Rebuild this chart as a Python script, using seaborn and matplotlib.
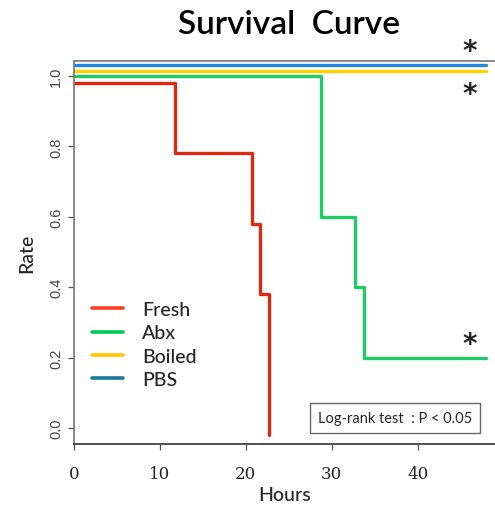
import pandas as pd
import matplotlib.pyplot as plt
import seaborn as sns
from matplotlib.lines import Line2D

# step points (hours, rate)
fresh_hours = [0, 11.7, 20.7, 21.7, 22.7]
fresh_rate = [0.98, 0.78, 0.58, 0.38, -0.02]
abx_hours = [0, 28.7, 32.7, 33.8, 48]
abx_rate = [1.0, 0.60, 0.40, 0.20, 0.20]
boiled_hours = [0, 48]
boiled_rate = [1.015, 1.015]
pbs_hours = [0, 48]
pbs_rate = [1.032, 1.032]

groups = ['Fresh', 'Abx', 'Boiled', 'PBS']
line_colors = ['#dc2a12', '#1ecb66', '#ffd000', '#1e88dd']
legend_colors = ['#ff3b22', '#00c957', '#ffc800', '#1a7a94']
star_x = [46.1, 46.1, 46.1]
star_y = [1.072, 0.950, 0.240]

frames = []
for g, h, r in zip(groups, [fresh_hours, abx_hours, boiled_hours, pbs_hours],
                   [fresh_rate, abx_rate, boiled_rate, pbs_rate]):
    frames.append(pd.DataFrame({'Hours': h, 'Rate': r, 'group': g}))
df = pd.concat(frames, ignore_index=True)

sns.set_style('white')
fig = plt.figure(figsize=(4.95, 5.06), dpi=100)
ax = fig.add_axes([0.1495, 0.1206, 0.8505, 0.7564])

sns.lineplot(data=df, x='Hours', y='Rate', hue='group', hue_order=groups,
             palette=line_colors, estimator=None, sort=False, units='group',
             drawstyle='steps-post', linewidth=2.4, legend=False, ax=ax)

ax.set_xlim(0, 49.0)
ax.set_ylim(-0.045, 1.042)
ax.set_xticks([0, 10, 20, 30, 40])
ax.set_yticks([0.0, 0.2, 0.4, 0.6, 0.8, 1.0])
ax.set_yticklabels(['0.0', '0.2', '0.4', '0.6', '0.8', '1.0'], rotation=90,
                   va='center', color='#444444', fontsize=10.5,
                   family='Liberation Sans')
ax.set_xticklabels(['0', '10', '20', '30', '40'], fontsize=12,
                   family='DejaVu Serif', color='#222222')
ax.tick_params(axis='both', direction='out', length=4, width=0.9,
               color='#555555', left=True, bottom=True)
ax.tick_params(axis='x', pad=11)
ax.tick_params(axis='y', pad=4)

for s in ['left', 'top']:
    ax.spines[s].set_color('#777777')
    ax.spines[s].set_linewidth(1.2)
ax.spines['bottom'].set_color('#333333')
ax.spines['bottom'].set_linewidth(1.2)
ax.spines['right'].set_visible(False)

ax.set_xlabel('Hours', fontsize=14, family='Lato', fontweight='medium', labelpad=3)
ax.set_ylabel('Rate', fontsize=14, family='Lato', fontweight='medium', labelpad=10)
ax.set_title('Survival  Curve', fontsize=24, family='Lato', fontweight='semibold',
             color='black', pad=20, x=0.51)

handles = [Line2D([0], [0], color=c, lw=2.6) for c in legend_colors]
leg = ax.legend(handles, groups, loc='lower left', bbox_to_anchor=(0.0, 0.10),
                frameon=False, fontsize=14, handlelength=1.6, handletextpad=1.0,
                labelspacing=0.33, borderaxespad=0.5)
for t in leg.get_texts():
    t.set_family('Lato')
    t.set_fontweight('medium')

for x, y in zip(star_x, star_y):
    ax.text(x, y, '*', fontsize=20, ha='center', va='center', fontweight='bold',
            family='DejaVu Sans', color='#222222', clip_on=False)

ax.text(37.4, 0.030, 'Log-rank test  : P < 0.05', fontsize=10.5, family='Lato',
        ha='center', va='center',
        bbox=dict(boxstyle='square,pad=0.55', fc='white', ec='#666666', lw=1))

fig.savefig('out.png', dpi=100)
